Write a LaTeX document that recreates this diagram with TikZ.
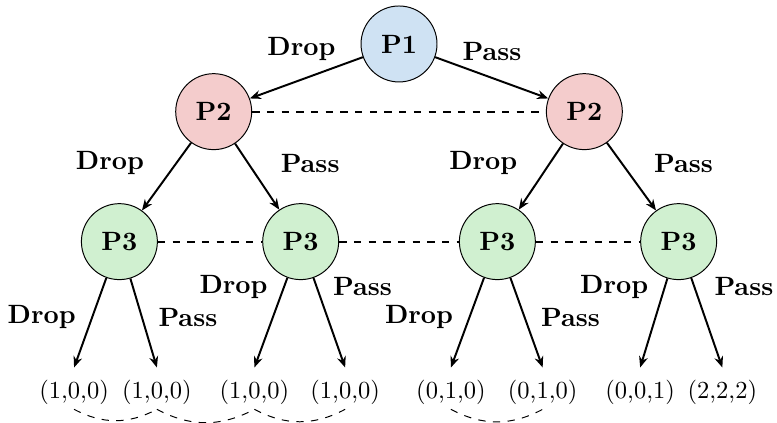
\documentclass[tikz,border=0pt]{standalone}
\usepackage{amsmath}
\usepackage{tikz}
\usetikzlibrary{arrows.meta, positioning}
\definecolor{pblue}{HTML}{CFE2F3}
\definecolor{pred}{HTML}{F4CCCC}
\definecolor{pgreen}{HTML}{D0F0D0}
\tikzset{%
	player/.style={draw, circle, minimum size=1.09cm, inner sep=0mm, on grid,
		font=\fontsize{10.8pt}{13pt}\selectfont\bfseries},
	pone/.style={player, fill=pblue},
	ptwo/.style={player, fill=pred},
	pthree/.style={player, fill=pgreen},
	leaf/.style={on grid, text height=9pt, text depth=1pt},
	move/.style={-{Stealth[length=4.5pt, width=3.6pt]}, thick},
	lbl/.style={font=\fontsize{10.8pt}{13pt}\selectfont\bfseries},
	infoset/.style={thick, dashed},
	tie/.style={dashed}
}

\begin{document}
\begin{tikzpicture}
	\useasboundingbox (-5.725,0.631) rectangle (5.423,-5.438);

	\node[pone] (p1) {P1};
	\node[ptwo, below left=0.971cm and 2.659cm of p1]  (p2a) {P2};
	\node[ptwo, below right=0.971cm and 2.659cm of p1] (p2b) {P2};

	\node[pthree, below left=1.865cm and 1.353cm of p2a]  (p3a) {P3};
	\node[pthree, below right=1.865cm and 1.248cm of p2a] (p3b) {P3};
	\node[pthree, below left=1.865cm and 1.248cm of p2b]  (p3c) {P3};
	\node[pthree, below right=1.865cm and 1.353cm of p2b] (p3d) {P3};

	\node[leaf, below left=2.106cm and 0.650cm of p3a]  (o1) {(1,0,0)};
	\node[leaf, below right=2.106cm and 0.538cm of p3a] (o2) {(1,0,0)};
	\node[leaf, below left=2.106cm and 0.664cm of p3b]  (o3) {(1,0,0)};
	\node[leaf, below right=2.106cm and 0.638cm of p3b] (o4) {(1,0,0)};
	\node[leaf, below left=2.106cm and 0.666cm of p3c]  (o5) {(0,1,0)};
	\node[leaf, below right=2.106cm and 0.650cm of p3c] (o6) {(0,1,0)};
	\node[leaf, below left=2.106cm and 0.552cm of p3d]  (o7) {(0,0,1)};
	\node[leaf, below right=2.106cm and 0.627cm of p3d] (o8) {(2,2,2)};

	\draw[move] (p1) to node[lbl, pos=0.2, above left=-2.5pt]  {Drop} (p2a);
	\draw[move] (p1) to node[lbl, pos=0.2, above right=-2.5pt] {Pass} (p2b);

	\draw[move] (p2a) to node[lbl, pos=0.3, left=9.5pt]  {Drop} (p3a);
	\draw[move] (p2a) to node[lbl, pos=0.3, right=9.5pt] {Pass} (p3b);
	\draw[move] (p2b) to node[lbl, pos=0.3, left=9.5pt]  {Drop} (p3c);
	\draw[move] (p2b) to node[lbl, pos=0.3, right=9.5pt] {Pass} (p3d);

	\draw[move] (p3a) to node[lbl, pos=0.44, left=3pt]  {Drop} (o1.north);
	\draw[move] (p3a) to node[lbl, pos=0.44, right=3pt] {Pass} (o2.north);
	\draw[move] (p3b) to node[lbl, pos=0.1, left=3pt]   {Drop} (o3.north);
	\draw[move] (p3b) to node[lbl, pos=0.1, right=3pt]  {Pass} (o4.north);
	\draw[move] (p3c) to node[lbl, pos=0.44, left=3pt]  {Drop} (o5.north);
	\draw[move] (p3c) to node[lbl, pos=0.44, right=3pt] {Pass} (o6.north);
	\draw[move] (p3d) to node[lbl, pos=0.1, left=3pt]   {Drop} (o7.north);
	\draw[move] (p3d) to node[lbl, pos=0.1, right=4.5pt] {Pass} (o8.north);

	\draw[infoset] (p2a) -- (p2b);
	\draw[infoset] (p3a) -- (p3b) -- (p3c) -- (p3d);

	\draw[tie] (o1.south) to[bend right=28] (o2.south);
	\draw[tie] (o2.south) to[bend right=28] (o3.south);
	\draw[tie] (o3.south) to[bend right=28] (o4.south);
	\draw[tie] (o5.south) to[bend right=28] (o6.south);

\end{tikzpicture}
\end{document}
